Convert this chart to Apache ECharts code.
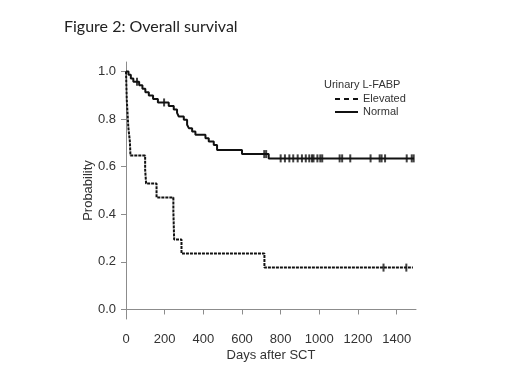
<!DOCTYPE html>
<html>
<head>
<meta charset="utf-8">
<script src="https://cdn.jsdelivr.net/npm/echarts@6/dist/echarts.min.js"></script>
<style>
  html, body { margin: 0; padding: 0; background: #fff; }
  #main { width: 520px; height: 390px; }
</style>
</head>
<body>
<div id="main"></div>
<script>
// Kaplan-Meier steps: day of event and survival after it
const elevDays = [0, 2, 4, 8, 12, 20, 23, 99, 104, 158, 245, 247, 249, 287, 716, 1484];
const elevSurv = [1, 0.941, 0.882, 0.824, 0.765, 0.706, 0.647, 0.588, 0.529, 0.471, 0.412, 0.353, 0.294, 0.235, 0.176, 0.176];
const elevCensor = [1332, 1450];

const normDays = [0, 13, 25, 38, 68, 85, 100, 118, 140, 165, 221, 247, 264, 273, 299, 316, 325, 342, 359, 411, 428, 454, 471, 600, 738, 1490];
const normSurv = [1, 0.986, 0.971, 0.957, 0.942, 0.928, 0.913, 0.899, 0.884, 0.870, 0.855, 0.840, 0.826, 0.811, 0.797, 0.776, 0.762, 0.748, 0.734, 0.720, 0.706, 0.691, 0.670, 0.653, 0.635, 0.635];
const normCensor = [57, 197, 715, 725, 800, 822, 845, 865, 888, 910, 930, 948, 962, 970, 990, 1005,
  1015, 1105, 1118, 1160, 1265, 1312, 1322, 1340, 1452, 1478, 1488];

const xTicks = [0, 200, 400, 600, 800, 1000, 1200, 1400];
const yTicks = [0, 0.2, 0.4, 0.6, 0.8, 1.0];

function survAt(days, surv, t) {
  let v = surv[0];
  for (let i = 0; i < days.length; i++) {
    if (days[i] <= t) v = surv[i];
  }
  return v;
}
function pairs(days, surv) {
  return days.map((d, i) => [d, surv[i]]);
}

const chart = echarts.init(document.getElementById('main'));
const axisGray = '#8c8c8c';
const txt = '#333';
const font = '"Liberation Sans", Arial, sans-serif';

const censorSymbol = {
  type: 'scatter',
  symbol: 'rect',
  symbolSize: [2, 8],
  itemStyle: { color: '#111' },
  silent: true,
  z: 4
};

chart.setOption({
  animation: false,
  title: [
    {
      text: 'Figure 2: Overall survival',
      left: 59, top: 14,
      textStyle: { fontFamily: 'Lato, sans-serif', fontWeight: 'normal', fontSize: 16, color: '#222' }
    },
    {
      text: 'Urinary L-FABP',
      left: 324, top: 79, padding: 0,
      textStyle: { fontFamily: font, fontWeight: 'normal', fontSize: 11, color: txt }
    }
  ],
  legend: {
    orient: 'vertical',
    left: 335, top: 93,
    padding: 0,
    itemGap: 1,
    itemWidth: 23,
    itemHeight: 2,
    textStyle: { fontFamily: font, fontSize: 11, color: txt, lineHeight: 12 },
    data: [
      { name: 'Elevated', icon: 'path://M0,0h5v2h-5zM9,0h5v2h-5zM18,0h5v2h-5z', itemStyle: { color: '#111' } },
      { name: 'Normal', icon: 'path://M0,0h23v2h-23z', itemStyle: { color: '#111' } }
    ]
  },
  grid: { left: 126, right: 104, top: 62, bottom: 71 },
  xAxis: {
    type: 'value',
    min: 0, max: 1500,
    name: 'Days after SCT',
    nameLocation: 'middle',
    nameGap: 30,
    nameMoveOverlap: false,
    nameTextStyle: { fontFamily: font, fontSize: 13, color: txt },
    axisLine: { lineStyle: { color: axisGray, width: 1 } },
    axisTick: { show: true, length: 5, customValues: xTicks, lineStyle: { color: axisGray } },
    axisLabel: { customValues: xTicks, margin: 14, fontFamily: font, fontSize: 13, color: txt, formatter: v => String(v) },
    splitLine: { show: false }
  },
  yAxis: {
    type: 'value',
    min: -0.04, max: 1.04,
    name: 'Probability',
    nameLocation: 'middle',
    nameGap: 31,
    nameMoveOverlap: false,
    nameTextStyle: { fontFamily: font, fontSize: 13, color: txt },
    axisLine: { show: true, lineStyle: { color: axisGray, width: 1 } },
    axisTick: { show: true, length: 5, customValues: yTicks, lineStyle: { color: axisGray } },
    axisLabel: {
      customValues: yTicks, margin: 10, fontFamily: font, fontSize: 13, color: txt,
      formatter: v => v.toFixed(1)
    },
    splitLine: { show: false }
  },
  series: [
    {
      name: 'Elevated',
      type: 'line',
      step: 'end',
      symbol: 'none',
      data: pairs(elevDays, elevSurv),
      lineStyle: { color: '#111', width: 2, type: [3, 1] },
      itemStyle: { color: '#111' },
      z: 3
    },
    {
      name: 'Normal',
      type: 'line',
      step: 'end',
      symbol: 'none',
      data: pairs(normDays, normSurv),
      lineStyle: { color: '#111', width: 2 },
      itemStyle: { color: '#111' },
      z: 3
    },
    Object.assign({ name: 'Elevated censored', data: elevCensor.map(t => [t, survAt(elevDays, elevSurv, t)]) }, censorSymbol),
    Object.assign({ name: 'Normal censored', data: normCensor.map(t => [t, survAt(normDays, normSurv, t)]) }, censorSymbol)
  ]
});
</script>
</body>
</html>
